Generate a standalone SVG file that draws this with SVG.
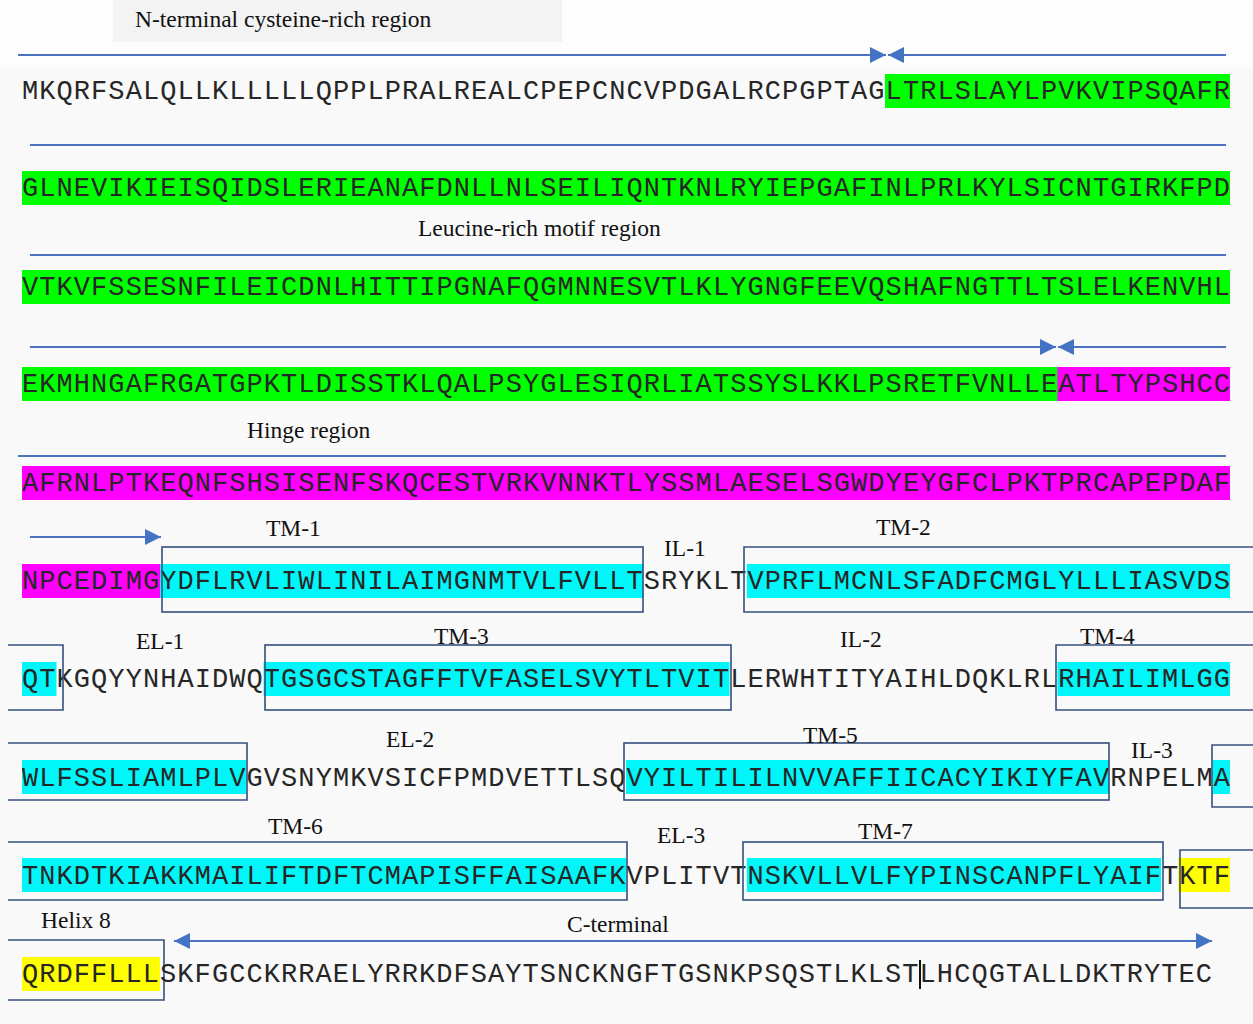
<svg xmlns="http://www.w3.org/2000/svg" width="1253" height="1024" viewBox="0 0 1253 1024">
<style>
.seq{font-family:"Liberation Mono","Courier New",monospace;font-size:27px;fill:#262626}
.lbl{font-family:"Liberation Serif","Times New Roman",serif;font-size:23.5px;fill:#111}
.ln{stroke:#4a72c0;stroke-width:2;fill:none}
.box{stroke:#34507e;stroke-width:1.6;fill:none}
.g{fill:#00ff00}.m{fill:#ff00ff}.c{fill:#00f6f8}.y{fill:#ffff00}
</style>
<defs>
<marker id="ah" markerUnits="userSpaceOnUse" markerWidth="18" markerHeight="16" refX="16" refY="8" orient="auto"><path d="M0,0 L16,8 L0,16 Z" fill="#4472c4"/></marker>
<marker id="ahs" markerUnits="userSpaceOnUse" markerWidth="18" markerHeight="16" refX="0" refY="8" orient="auto"><path d="M16,0 L0,8 L16,16 Z" fill="#4472c4"/></marker>
</defs>
<rect x="0" y="0" width="1253" height="1024" fill="#f9f9f9"/>
<rect x="0" y="0" width="1253" height="68" fill="#fdfdfd"/>
<g id="label-nterm"><rect x="113" y="0" width="449" height="42" fill="#f3f3f3"/><text class="lbl" x="135" y="27">N-terminal cysteine-rich region</text></g>
<g id="connectors">
<line class="ln" x1="18" y1="55" x2="886" y2="55" marker-end="url(#ah)"/>
<line class="ln" x1="1226" y1="55" x2="888" y2="55" marker-end="url(#ah)"/>
<line class="ln" x1="30" y1="145" x2="1226" y2="145"/>
<line class="ln" x1="30" y1="255" x2="1226" y2="255"/>
<line class="ln" x1="30" y1="347" x2="1056" y2="347" marker-end="url(#ah)"/>
<line class="ln" x1="1226" y1="347" x2="1058" y2="347" marker-end="url(#ah)"/>
<line class="ln" x1="18" y1="456" x2="1226" y2="456"/>
<line class="ln" x1="30" y1="537" x2="161" y2="537" marker-end="url(#ah)"/>
<line class="ln" x1="174" y1="941" x2="1212" y2="941" marker-start="url(#ahs)" marker-end="url(#ah)"/>
</g>
<g id="row1"><rect class="g" x="885" y="74" width="345" height="34"/><text class="seq" x="22" y="99" textLength="1208" lengthAdjust="spacing">MKQRFSALQLLKLLLLLQPPLPRALREALCPEPCNCVPDGALRCPGPTAGLTRLSLAYLPVKVIPSQAFR</text></g>
<g id="row2"><rect class="g" x="22" y="171" width="1208" height="34"/><text class="seq" x="22" y="196" textLength="1208" lengthAdjust="spacing">GLNEVIKIEISQIDSLERIEANAFDNLLNLSEILIQNTKNLRYIEPGAFINLPRLKYLSICNTGIRKFPD</text></g>
<g id="label-lrr"><text class="lbl" x="418" y="236">Leucine-rich motif region</text></g>
<g id="row3"><rect class="g" x="22" y="270" width="1208" height="34"/><text class="seq" x="22" y="295" textLength="1208" lengthAdjust="spacing">VTKVFSSESNFILEICDNLHITTIPGNAFQGMNNESVTLKLYGNGFEEVQSHAFNGTTLTSLELKENVHL</text></g>
<g id="row4"><rect class="g" x="22" y="367" width="1036" height="34"/><rect class="m" x="1057.4" y="367" width="172.6" height="34"/><text class="seq" x="22" y="392" textLength="1208" lengthAdjust="spacing">EKMHNGAFRGATGPKTLDISSTKLQALPSYGLESIQRLIATSSYSLKKLPSRETFVNLLEATLTYPSHCC</text></g>
<g id="label-hinge"><text class="lbl" x="247" y="438">Hinge region</text></g>
<g id="row5"><rect class="m" x="22" y="466" width="1208" height="34"/><text class="seq" x="22" y="491" textLength="1208" lengthAdjust="spacing">AFRNLPTKEQNFSHSISENFSKQCESTVRKVNNKTLYSSMLAESELSGWDYEYGFCLPKTPRCAPEPDAF</text></g>
<g id="row6"><rect class="m" x="22" y="564" width="138.1" height="34"/><rect class="c" x="160.1" y="564" width="483.1" height="34"/><rect class="c" x="746.8" y="564" width="483.2" height="34"/><text class="seq" x="22" y="589" textLength="1208" lengthAdjust="spacing">NPCEDIMGYDFLRVLIWLINILAIMGNMTVLFVLLTSRYKLTVPRFLMCNLSFADFCMGLYLLLIASVDS</text></g>
<g id="TM-1"><rect class="box" x="162" y="547" width="481" height="65"/><text class="lbl" x="266" y="536">TM-1</text></g>
<g id="IL-1"><text class="lbl" x="664" y="556">IL-1</text></g>
<g id="TM-2"><path class="box" d="M1253,547 H744 V612 H1253"/><text class="lbl" x="876" y="535">TM-2</text></g>
<g id="row7"><rect class="c" x="22" y="662" width="34.5" height="34"/><rect class="c" x="263.6" y="662" width="465.9" height="34"/><rect class="c" x="1057.4" y="662" width="172.6" height="34"/><text class="seq" x="22" y="687" textLength="1208" lengthAdjust="spacing">QTKGQYYNHAIDWQTGSGCSTAGFFTVFASELSVYTLTVITLERWHTITYAIHLDQKLRLRHAILIMLGG</text></g>
<g id="TM-2-end"><path class="box" d="M8,645 H63 V710 H8"/></g>
<g id="EL-1"><text class="lbl" x="136" y="649">EL-1</text></g>
<g id="TM-3"><rect class="box" x="265" y="645" width="466" height="65"/><text class="lbl" x="434" y="644">TM-3</text></g>
<g id="IL-2"><text class="lbl" x="840" y="647">IL-2</text></g>
<g id="TM-4"><path class="box" d="M1253,645 H1056 V710 H1253"/><text class="lbl" x="1080" y="644">TM-4</text></g>
<g id="row8"><rect class="c" x="22" y="760" width="224.3" height="34"/><rect class="c" x="626" y="760" width="483.2" height="34"/><rect class="c" x="1212.7" y="760" width="17.3" height="34"/><text class="seq" x="22" y="786" textLength="1208" lengthAdjust="spacing">WLFSSLIAMLPLVGVSNYMKVSICFPMDVETTLSQVYILTILILNVVAFFIICACYIKIYFAVRNPELMA</text></g>
<g id="TM-4-end"><path class="box" d="M8,743 H247 V800 H8"/></g>
<g id="EL-2"><text class="lbl" x="386" y="747">EL-2</text></g>
<g id="TM-5"><rect class="box" x="624" y="743" width="485" height="57"/><text class="lbl" x="803" y="743">TM-5</text></g>
<g id="IL-3"><text class="lbl" x="1131" y="758">IL-3</text></g>
<g id="TM-6"><path class="box" d="M1253,745 H1212 V807 H1253"/><path class="box" d="M8,842 H627 V900 H8"/><text class="lbl" x="268" y="834">TM-6</text></g>
<g id="row9"><rect class="c" x="22" y="858" width="604" height="34"/><rect class="c" x="746.8" y="858" width="414.2" height="34"/><rect class="y" x="1178.2" y="858" width="51.8" height="34"/><text class="seq" x="22" y="884" textLength="1208" lengthAdjust="spacing">TNKDTKIAKKMAILIFTDFTCMAPISFFAISAAFKVPLITVTNSKVLLVLFYPINSCANPFLYAIFTKTF</text></g>
<g id="EL-3"><text class="lbl" x="657" y="843">EL-3</text></g>
<g id="TM-7"><rect class="box" x="743" y="842" width="420" height="58"/><text class="lbl" x="858" y="839">TM-7</text></g>
<g id="Helix-8"><path class="box" d="M1253,850 H1180 V908 H1253"/><path class="box" d="M8,940 H164 V1000 H8"/><text class="lbl" x="41" y="928">Helix 8</text></g>
<g id="C-terminal"><text class="lbl" x="567" y="932">C-terminal</text></g>
<g id="row10"><rect class="y" x="22" y="957" width="138" height="34"/><text class="seq" x="22" y="982" textLength="1190" lengthAdjust="spacing">QRDFFLLLSKFGCCKRRAELYRRKDFSAYTSNCKNGFTGSNKPSQSTLKLSTLHCQGTALLDKTRYTEC</text><line x1="920" y1="960" x2="920" y2="989" stroke="#111" stroke-width="2"/></g>
</svg>
